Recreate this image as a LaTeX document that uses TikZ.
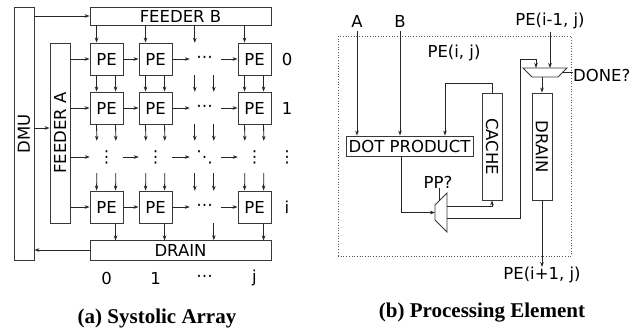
\documentclass[tikz,border=0pt]{standalone}
\usepackage{fontspec}
\usepackage{graphicx}
\setmainfont{DejaVu Sans}
\newfontfamily\capfont{Liberation Serif}
\usetikzlibrary{arrows.meta}
\begin{document}
\begin{tikzpicture}[x=1pt,y=-1pt,
  every node/.style={font=\fontsize{16.5}{19}\selectfont, inner sep=0pt},
  blk/.style={draw=black!78, line width=0.9pt, fill=white},
  pebox/.style={blk, minimum width=33pt, minimum height=32pt},
  ghost/.style={minimum width=33pt, minimum height=32pt},
  ln/.style={draw=black!85, line width=0.8pt},
  arr/.style={ln, -{Stealth[length=5pt,width=3.6pt]}},
  captxt/.style={font=\capfont\bfseries\fontsize{21}{24}\selectfont, anchor=base}]
\useasboundingbox[fill=white] (0,0) rectangle (637,330);

% ---------------- (a) systolic array ----------------
\node[blk, minimum width=20pt, minimum height=253pt] (dmu) at (24,133.5) {\rotatebox{90}{DMU}};
\node[blk, minimum width=181pt, minimum height=18pt] (fb) at (180.5,16) {FEEDER B};
\node[blk, minimum width=20pt, minimum height=180pt] (fa) at (60,133) {\rotatebox{90}{FEEDER A}};
\node[blk, minimum width=181pt, minimum height=20pt] (drain) at (180.5,250) {DRAIN};

% rows: a (0), b (1), d (dots), c (i)
\foreach \r/\y in {a/59, b/108, c/207} {
  \node[pebox] (p\r0) at (106.5,\y) {PE};
  \node[pebox] (p\r1) at (155.5,\y) {PE};
  \node[ghost] (p\r d) at (204.5,\y) {⋯};
  \node[pebox] (p\r j) at (254.5,\y) {PE};
}
\node[ghost] (pd0) at (106.5,157) {⋮};
\node[ghost] (pd1) at (155.5,157) {⋮};
\node[ghost] (pdd) at (204.5,157) {⋱};
\node[ghost] (pdj) at (254.5,157) {⋮};

% row labels
\node (ra) at (287,59) {0};
\node (rb) at (287,108) {1};
\node (rd) at (287,157) {⋮};
\node (rc) at (287,207) {i};
% column labels
\node (ca) at (106.5,278) {0};
\node (cb) at (155.5,278) {1};
\node (cd) at (204.5,278) {⋯};
\node (cj) at (254.5,278) {j};

% DMU connections
\draw[arr] (dmu.east |- fb.west) -- (fb.west);
\coordinate (fain) at ([yshift=5pt]fa.west);
\draw[arr] (dmu.east |- fain) -- (fain);
\draw[arr] (drain.west) -- (dmu.east |- drain.west);

% horizontal arrows
\foreach \r in {a,b,d,c} {
  \draw[arr] (fa.east |- p\r0.west) -- (p\r0.west);
  \draw[arr] (p\r0.east) -- (p\r1.west);
  \draw[arr] (p\r1.east) -- ([xshift=2pt]p\r d.west);
  \draw[arr] (p\r d.east) -- (p\r j.west);
}

% vertical arrows
\foreach \c in {0,1,d,j} {
  \draw[arr] ([xshift=7pt,yshift=18pt]pa\c.north west) -- ([xshift=7pt]pa\c.north west);
  \draw[arr] ([xshift=7pt]pa\c.south west) -- ([xshift=7pt]pb\c.north west);
  \draw[arr] ([xshift=26pt]pa\c.south west) -- ([xshift=26pt]pb\c.north west);
  \draw[arr] ([xshift=7pt]pb\c.south west) -- ([xshift=7pt]pd\c.north west);
  \draw[arr] ([xshift=26pt]pb\c.south west) -- ([xshift=26pt]pd\c.north west);
  \draw[arr] ([xshift=7pt]pd\c.south west) -- ([xshift=7pt]pc\c.north west);
  \draw[arr] ([xshift=26pt]pd\c.south west) -- ([xshift=26pt]pc\c.north west);
  \draw[arr] ([xshift=26pt]pc\c.south west) -- ([xshift=26pt,yshift=-17pt]pc\c.south west);
}

\node[captxt] (capa) at (157,323) {(a) Systolic Array};

% ---------------- (b) processing element ----------------
\node[draw=black!65, dotted, line width=0.7pt, minimum width=233pt, minimum height=220pt] (pe) at (454.5,146) {};
\node (pelbl) at (454,53) {PE(i, j)};
\node[anchor=base] (ina) at (357,27) {A};
\node[anchor=base] (inb) at (400,27) {B};
\node[anchor=base] (inp) at (550,25) {PE(i-1, j)};
\node[anchor=north] (outp) at (542,267) {PE(i+1, j)};

\node[blk, minimum width=127pt, minimum height=20pt] (dp) at (409.5,146) {DOT PRODUCT};
\node[blk, minimum width=20pt, minimum height=107pt] (cache) at (492,146.5) {\rotatebox{-90}{CACHE}};
\node[blk, minimum width=20pt, minimum height=107pt] (dr2) at (542,146.5) {\rotatebox{-90}{DRAIN}};

% DONE? mux
\coordinate (dmtl) at (523,68);
\coordinate (dmtr) at (567,68);
\coordinate (dmbr) at (558,77);
\coordinate (dmbl) at (532,77);
\draw[blk] (dmtl) -- (dmtr) -- (dmbr) -- (dmbl) -- cycle;
\coordinate (dmin) at (536,68);
\coordinate (dmout) at (542,77);
\coordinate (dmsel) at (562.5,72.5);
\node[anchor=west] (done) at (573,75) {DONE?};

% PP? demux
\coordinate (pplt) at (435,205);
\coordinate (pplb) at (435,220);
\coordinate (pprt) at (447,193);
\coordinate (pprb) at (447,232);
\draw[blk] (pplt) -- (pprt) -- (pprb) -- (pplb) -- cycle;
\coordinate (ppin) at (435,212.5);
\coordinate (ppo1) at (447,206);
\coordinate (ppo2) at (447,218);
\coordinate (ppsel) at (439,201);
\node (pp) at (438,182) {PP?};
\coordinate (loopc) at (520,59);

% connections
\draw[arr] ([yshift=-4pt]ina.south) -- (ina.south |- dp.north);
\draw[arr] ([yshift=-4pt]inb.south) -- (inb.south |- dp.north);
\draw[arr] (cache.north) -- ++(0,-9) -| ([xshift=35.5pt]dp.north);
\draw[arr] ([xshift=-8.5pt]dp.south) |- (ppin);
\draw[arr] (ppo1) -| (cache.south);
\draw[arr] (ppo2) -| (loopc) -| (dmin);
\draw[ln] (ppsel |- pp.south) -- (ppsel);
\draw[arr] ([yshift=-3pt]inp.south) -- (inp.south |- dmtl);
\draw[arr] (dmout) -- (dr2.north);
\draw[ln] (dmsel) -- (done.west |- dmsel);
\draw[arr] (dr2.south) -- (outp.north);

\node[captxt] (capb) at (482,317) {(b) Processing Element};
\end{tikzpicture}
\end{document}
